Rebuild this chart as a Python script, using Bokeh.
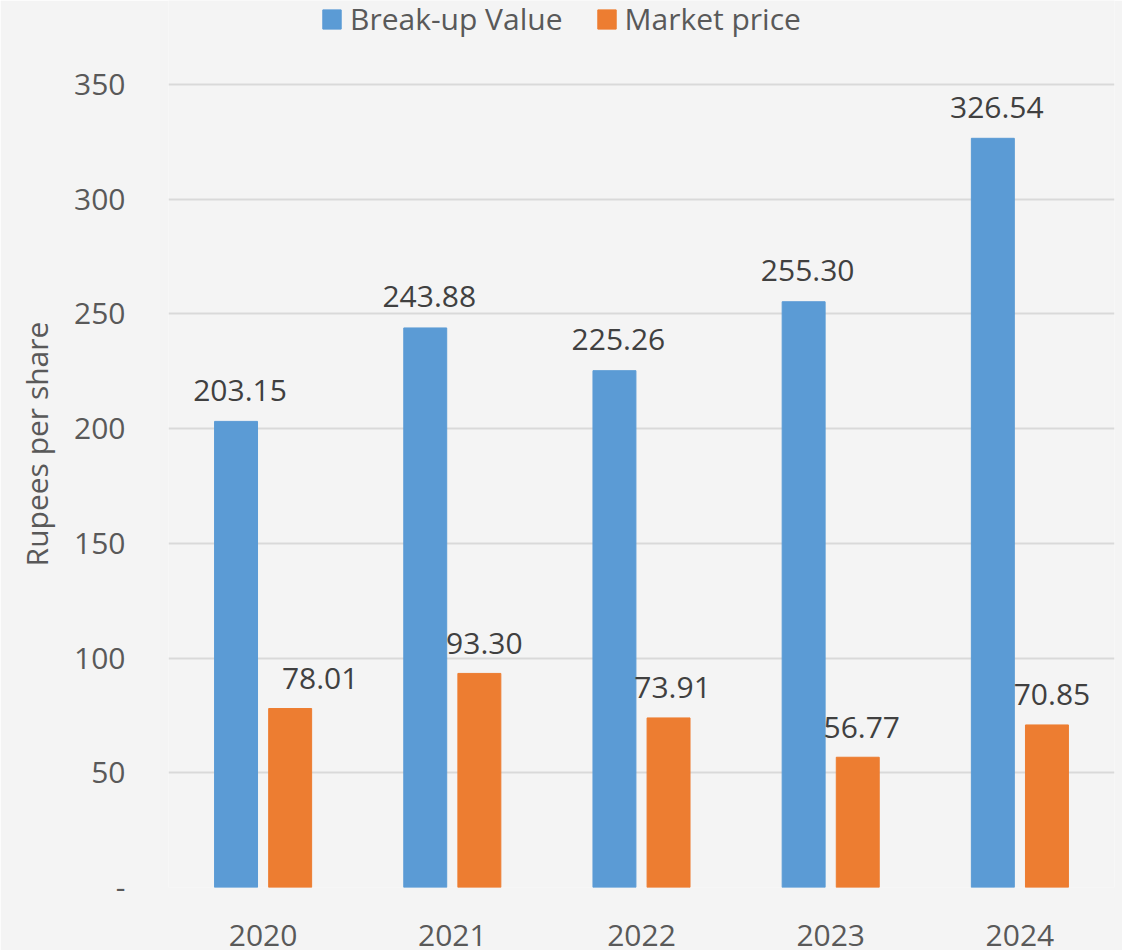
from bokeh.plotting import figure
from bokeh.models import (ColumnDataSource, FactorRange, Range1d, FixedTicker,
                          Legend, LegendItem)
from bokeh.transform import dodge
from bokeh.core.properties import value
from bokeh.embed import file_html
from bokeh.resources import INLINE

years = ["2020", "2021", "2022", "2023", "2024"]
breakup_value = [203.15, 243.88, 225.26, 255.30, 326.54]
market_price = [78.01, 93.30, 73.91, 56.77, 70.85]
y_ticks = [0, 50, 100, 150, 200, 250, 300, 350]
series_names = ["Break-up Value", "Market price"]

FONT = "Open Sans"
BG = "#f4f4f4"
BLUE = "#5b9bd5"
ORANGE = "#ed7d31"

src = ColumnDataSource(dict(
    year=years,
    bv=breakup_value,
    mp=market_price,
    bv_lbl=["%.2f" % v for v in breakup_value],
    mp_lbl=["%.2f" % v for v in market_price],
    mp_dx=[30, 5, 4, 4, 5],
))

# y range extended above 350 so the legend can sit inside the frame at the top
p = figure(width=1122, height=950, x_range=FactorRange(*years, range_padding=0),
           y_range=Range1d(0, 386.6), output_backend="svg", toolbar_location=None,
           min_border_left=168, min_border_right=8, min_border_top=0,
           min_border_bottom=63)
p.background_fill_color = BG
p.border_fill_color = BG
p.outline_line_color = None

bw = 0.227
off = 0.143
r1 = p.vbar(x=dodge("year", -off, range=p.x_range), top="bv", width=bw, bottom=0,
            source=src, fill_color=BLUE, line_color=BLUE)
r2 = p.vbar(x=dodge("year", off, range=p.x_range), top="mp", width=bw, bottom=0,
            source=src, fill_color=ORANGE, line_color=ORANGE)

p.text(x=dodge("year", -off, range=p.x_range), y="bv", text="bv_lbl", source=src,
       text_font=value(FONT), text_font_size="30px", text_color="#404040",
       text_align="center", text_baseline="middle", x_offset=4, y_offset=-31)
p.text(x=dodge("year", off, range=p.x_range), y="mp", text="mp_lbl", source=src,
       text_font=value(FONT), text_font_size="30px", text_color="#404040",
       text_align="center", text_baseline="middle", x_offset="mp_dx", y_offset=-30)

# axes
p.xgrid.grid_line_color = None
p.ygrid.grid_line_color = "#d9d9d9"
p.ygrid.grid_line_width = 2
p.yaxis.ticker = FixedTicker(ticks=y_ticks)
p.yaxis.major_label_overrides = {0: "-"}
for ax in (p.xaxis[0], p.yaxis[0]):
    ax.axis_line_color = None
    ax.major_tick_line_color = None
    ax.minor_tick_line_color = None
    ax.major_label_text_font = FONT
    ax.major_label_text_font_size = "30px"
    ax.major_label_text_color = "#595959"
p.yaxis.major_label_standoff = 37
p.xaxis.major_label_standoff = 31
p.yaxis.axis_label = "Rupees per share"
p.yaxis.axis_label_text_font = FONT
p.yaxis.axis_label_text_font_size = "30px"
p.yaxis.axis_label_text_font_style = "normal"
p.yaxis.axis_label_text_color = "#595959"
p.yaxis.axis_label_standoff = 14

legend = Legend(items=[LegendItem(label=series_names[0], renderers=[r1]),
                       LegendItem(label=series_names[1], renderers=[r2])],
                orientation="horizontal", location=(152, 848),
                glyph_width=23, glyph_height=24, label_standoff=7, spacing=32,
                padding=0, margin=0, border_line_color=None,
                background_fill_alpha=0,
                label_text_font=FONT, label_text_font_size="30px",
                label_text_color="#595959")
p.add_layout(legend, "center")

open("out.html", "w").write(file_html(p, INLINE))
